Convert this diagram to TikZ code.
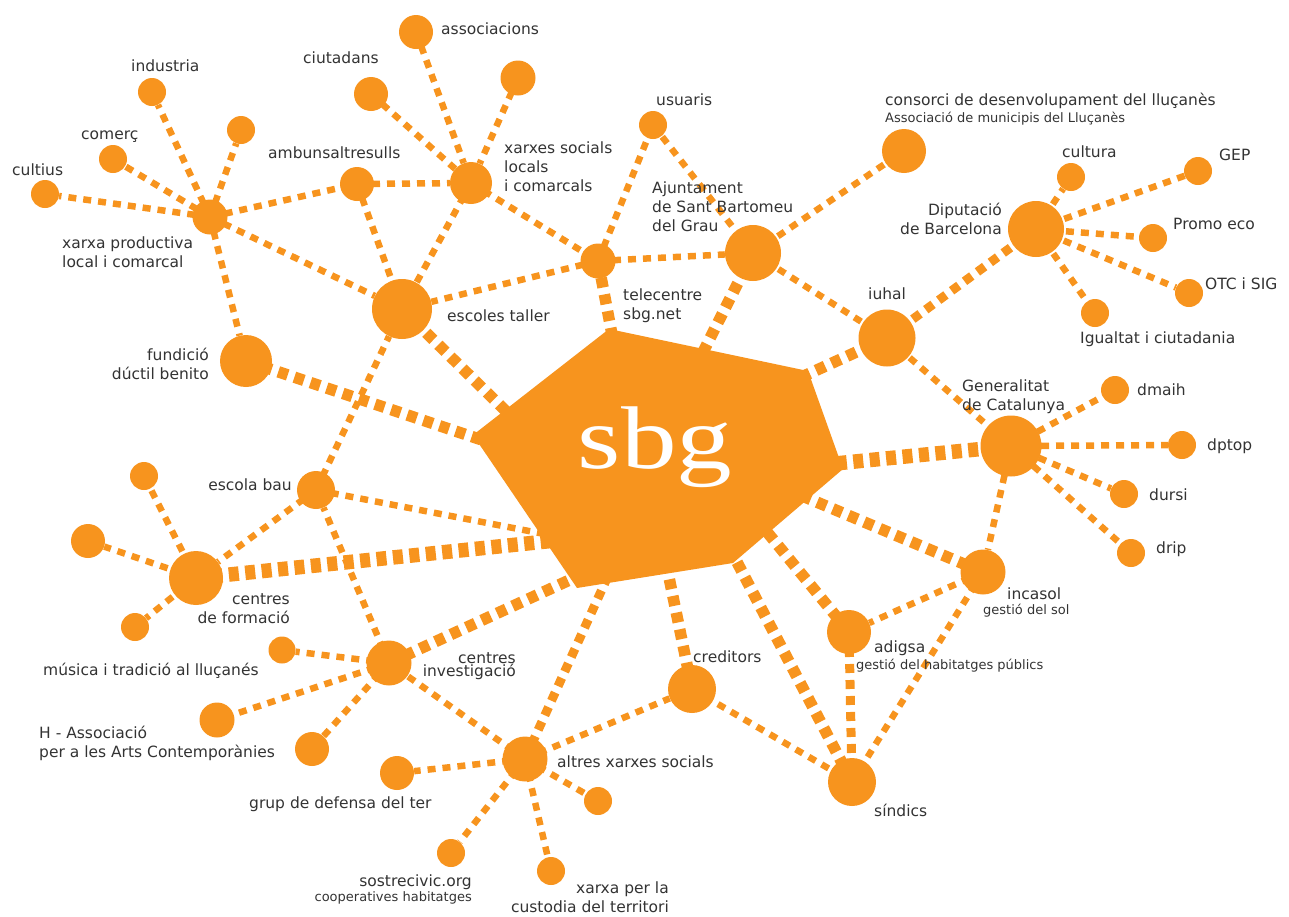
\documentclass[tikz,border=0pt]{standalone}
\usepackage{fontspec}
\setmainfont{DejaVu Sans}
\newfontfamily\sbgfont{Liberation Serif}
\usetikzlibrary{backgrounds}
\definecolor{sbgor}{HTML}{F7941E}
\definecolor{txtc}{HTML}{333333}
\begin{document}
\begin{tikzpicture}[x=1pt,y=-1pt,
 bub/.style={circle,fill=sbgor,inner sep=0pt,minimum size=#1},
 lnA/.style={draw=sbgor,line width=6.5pt,dash pattern=on 8pt off 7pt},
 lnB/.style={draw=sbgor,line width=9pt,dash pattern=on 9pt off 7pt},
 lnC/.style={draw=sbgor,line width=11.5pt,dash pattern=on 10pt off 7pt},
 lnD/.style={draw=sbgor,line width=14.5pt,dash pattern=on 10pt off 6.5pt},
 lbl/.style={text=txtc,inner sep=0pt,font=\fontsize{15.5}{19}\selectfont},
 sml/.style={text=txtc,inner sep=0pt,font=\fontsize{13}{15}\selectfont}]
\useasboundingbox (0,0) rectangle (1289,916);

% ---- bubbles ----
\node[bub=28] (cult) at (45,194) {};
\node[bub=28] (comr) at (113,159) {};
\node[bub=28] (indu) at (152,92) {};
\node[bub=28] (xp1) at (241,130) {};
\node[bub=35] (xp) at (210,217) {};
\node[bub=34] (amb) at (357,184) {};
\node[bub=34] (ciut) at (371,94) {};
\node[bub=34] (assoc) at (416,32) {};
\node[bub=35] (xs1) at (518,78) {};
\node[bub=42] (xs) at (471,183) {};
\node[bub=60] (esc) at (402,309) {};
\node[bub=52] (fund) at (246,361) {};
\node[bub=35] (tele) at (598,261) {};
\node[bub=28] (usu) at (653,125) {};
\node[bub=56] (ajun) at (753,253) {};
\node[bub=44] (cons) at (904,151) {};
\node[bub=57] (iuhal) at (887,338) {};
\node[bub=56] (dipu) at (1036,229) {};
\node[bub=28] (cultu) at (1071,177) {};
\node[bub=28] (gep) at (1198,171) {};
\node[bub=28] (promo) at (1153,238) {};
\node[bub=28] (otc) at (1189,293) {};
\node[bub=28] (igual) at (1095,313) {};
\node[bub=61] (gene) at (1011,446) {};
\node[bub=28] (dmaih) at (1115,390) {};
\node[bub=28] (dptop) at (1182,445) {};
\node[bub=28] (dursi) at (1124,494) {};
\node[bub=28] (drip) at (1131,553) {};
\node[bub=45] (inca) at (983,572) {};
\node[bub=44] (adig) at (849,632) {};
\node[bub=48] (sind) at (852,782) {};
\node[bub=48] (cred) at (692,689) {};
\node[bub=45] (altr) at (525,759) {};
\node[bub=28] (al1) at (598,801) {};
\node[bub=28] (cust) at (551,871) {};
\node[bub=28] (sost) at (451,853) {};
\node[bub=34] (grup) at (397,773) {};
\node[bub=45] (inve) at (389,663) {};
\node[bub=27] (musi) at (282,650) {};
\node[bub=35] (hass) at (217,720) {};
\node[bub=34] (in1) at (312,749) {};
\node[bub=38] (bau) at (316,490) {};
\node[bub=54] (form) at (196,578) {};
\node[bub=28] (fo1) at (144,476) {};
\node[bub=34] (fo2) at (88,541) {};
\node[bub=28] (fo3) at (135,627) {};

% ---- central polygon ----
\coordinate (sbg) at (655,450);
\coordinate (s-esc) at (520,425);
\coordinate (s-fund) at (500,446);
\coordinate (s-bau) at (560,537);
\coordinate (s-form) at (570,539);
\coordinate (s-inve) at (600,566);
\coordinate (s-altr) at (613,565);
\coordinate (s-cred) at (665,558);
\coordinate (s-sind) at (727,543);
\coordinate (s-adig) at (758,521);
\coordinate (s-inca) at (800,495);
\coordinate (s-gene) at (820,465);
\coordinate (s-iuhal) at (795,380);
\coordinate (s-ajun) at (700,358);
\coordinate (s-tele) at (614,345);
\fill[sbgor] (609,329) -- (808,371) -- (843,469) -- (733,563) -- (577,588) -- (473,435) -- cycle;
\node[anchor=base,inner sep=0pt,text=white,font=\sbgfont\fontsize{89}{89}\selectfont] (sbgtxt) at (655,468) {\scalebox{1.25}[1]{sbg}};

% ---- connectors ----
\begin{scope}[on background layer]
\foreach \a/\b in {xp/indu,xp/comr,xp/cult,xp/xp1,xp/amb,xp/esc,xp/fund,
  amb/xs,amb/esc,ciut/xs,assoc/xs,xs1/xs,xs/esc,xs/tele,
  tele/usu,tele/esc,tele/ajun,usu/ajun,ajun/cons,ajun/iuhal,iuhal/gene,
  dipu/cultu,dipu/gep,dipu/promo,dipu/otc,dipu/igual,
  gene/dmaih,gene/dptop,gene/dursi,gene/drip,gene/inca,
  inca/adig,inca/sind,cred/sind,altr/cred,altr/inve,altr/grup,altr/sost,altr/cust,altr/al1,
  inve/bau,inve/musi,inve/hass,inve/in1,bau/esc,bau/form,bau/s-bau,
  form/fo1,form/fo2,form/fo3}
  \draw[lnA] (\a.center) -- (\b);
\draw[lnB] (iuhal.center) -- (dipu.center);
\draw[lnB] (adig.center) -- (sind.center);
\draw[lnB] (altr.center) -- (s-altr);
\foreach \a in {esc,fund,tele,ajun,iuhal,inca,adig,sind,cred,inve}
  \draw[lnC] (\a.center) -- (s-\a);
\draw[lnD] (gene.center) -- (s-gene);
\draw[lnD] (form.center) -- (s-form);
\end{scope}

% ---- labels (multi-line nodes: base = last line) ----
\node[lbl,anchor=base west] (l-indu) at (131,71) {industria};
\node[lbl,anchor=base west] (l-comr) at (81,139) {comerç};
\node[lbl,anchor=base west] (l-cult) at (12,175) {cultius};
\node[lbl,anchor=base west,align=left] (l-xp) at (62,267) {xarxa productiva\\local i comarcal};
\node[lbl,anchor=base west] (l-amb) at (268,158) {ambunsaltresulls};
\node[lbl,anchor=base west] (l-ciut) at (303,63) {ciutadans};
\node[lbl,anchor=base west] (l-assoc) at (441,34) {associacions};
\node[lbl,anchor=base west,align=left] (l-xs) at (504,191) {xarxes socials\\locals\\i comarcals};
\node[lbl,anchor=base west] (l-esc) at (447,321) {escoles taller};
\node[lbl,anchor=base east,align=right] (l-fund) at (209,379) {fundició\\dúctil benito};
\node[lbl,anchor=base west,align=left] (l-tele) at (623,319) {telecentre\\sbg.net};
\node[lbl,anchor=base west] (l-usu) at (656,105) {usuaris};
\node[lbl,anchor=base west,align=left] (l-ajun) at (652,231) {Ajuntament\\de Sant Bartomeu\\del Grau};
\node[lbl,anchor=base west] (l-cons) at (885,105) {consorci de desenvolupament del lluçanès};
\node[sml,anchor=base west] (l-cons2) at (885,122) {Associació de municipis del Lluçanès};
\node[lbl,anchor=base west] (l-iuhal) at (868,299) {iuhal};
\node[lbl,anchor=base east,align=right] (l-dipu) at (1002,234) {Diputació\\de Barcelona};
\node[lbl,anchor=base west] (l-cultu) at (1062,157) {cultura};
\node[lbl,anchor=base west] (l-gep) at (1219,160) {GEP};
\node[lbl,anchor=base west] (l-promo) at (1173,229) {Promo eco};
\node[lbl,anchor=base west] (l-otc) at (1205,289) {OTC i SIG};
\node[lbl,anchor=base west] (l-igual) at (1080,343) {Igualtat i ciutadania};
\node[lbl,anchor=base west,align=left] (l-gene) at (962,410) {Generalitat\\de Catalunya};
\node[lbl,anchor=base west] (l-dmaih) at (1137,395) {dmaih};
\node[lbl,anchor=base west] (l-dptop) at (1207,450) {dptop};
\node[lbl,anchor=base west] (l-dursi) at (1149,500) {dursi};
\node[lbl,anchor=base west] (l-drip) at (1156,553) {drip};
\node[lbl,anchor=base west] (l-inca) at (1007,599) {incasol};
\node[sml,anchor=base west] (l-inca2) at (983,614) {gestió del sol};
\node[lbl,anchor=base west] (l-adig) at (874,652) {adigsa};
\node[sml,anchor=base west] (l-adig2) at (856,669) {gestió del habitatges públics};
\node[lbl,anchor=base west] (l-sind) at (874,816) {síndics};
\node[lbl,anchor=base west] (l-cred) at (693,662) {creditors};
\node[lbl,anchor=base west] (l-altr) at (557,767) {altres xarxes socials};
\node[lbl,anchor=base east] (l-inve1) at (516,663) {centres};
\node[lbl,anchor=base east] (l-inve2) at (516,676) {investigació};
\node[lbl,anchor=base east,align=right] (l-cust) at (669,912) {xarxa per la\\custodia del territori};
\node[lbl,anchor=base east] (l-sost) at (472,886) {sostrecivic.org};
\node[sml,anchor=base east] (l-sost2) at (472,901) {cooperatives habitatges};
\node[lbl,anchor=base west] (l-grup) at (249,808) {grup de defensa del ter};
\node[lbl,anchor=base west,align=left] (l-hass) at (39,757) {H - Associació\\per a les Arts Contemporànies};
\node[lbl,anchor=base west] (l-musi) at (43,675) {música i tradició al lluçanés};
\node[lbl,anchor=base east] (l-bau) at (292,490) {escola bau};
\node[lbl,anchor=base east,align=right] (l-form) at (290,623) {centres\\de formació};
\end{tikzpicture}
\end{document}
